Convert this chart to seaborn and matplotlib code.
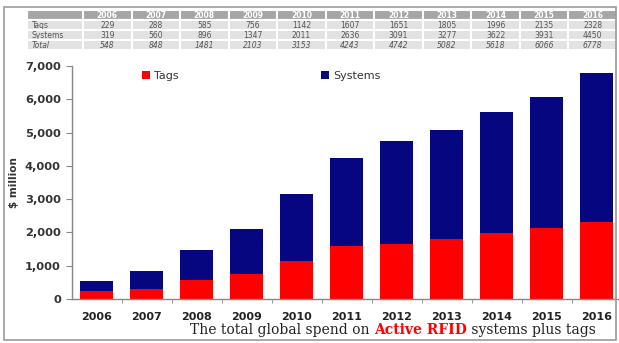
import numpy as np
import pandas as pd
import matplotlib
matplotlib.use("Agg")
import matplotlib.pyplot as plt
import seaborn as sns
from matplotlib.patches import Rectangle

years = ["2006", "2007", "2008", "2009", "2010", "2011", "2012", "2013", "2014", "2015", "2016"]
tags = [229, 288, 585, 756, 1142, 1607, 1651, 1805, 1996, 2135, 2328]
systems = [319, 560, 896, 1347, 2011, 2636, 3091, 3277, 3622, 3931, 4450]
totals = [548, 848, 1481, 2103, 3153, 4243, 4742, 5082, 5618, 6066, 6778]

red = "#fe0000"
navy = "#060680"

sns.set_style("white")
plt.rcParams["font.family"] = ["DejaVu Sans"]

df = pd.DataFrame({"year": years, "tags": tags, "systems": systems})
df["total"] = df["tags"] + df["systems"]

fig = plt.figure(figsize=(6.19, 3.43), dpi=100)

# outer frame
fig.patches.append(Rectangle((4 / 619, 3 / 343), 612 / 619, 333 / 343, transform=fig.transFigure,
                             fill=False, edgecolor="#9a9a9a", linewidth=1.2))

ax = fig.add_axes([72 / 619, 1 - 299 / 343, 547 / 619, 233 / 343])
sns.barplot(data=df, x="year", y="total", color=navy, width=0.66, saturation=1,
            edgecolor="none", ax=ax, label="Systems")
sns.barplot(data=df, x="year", y="tags", color=red, width=0.66, saturation=1,
            edgecolor="none", ax=ax, label="Tags")

ax.set_ylim(0, 7000)
ax.set_xlim(-0.49, 10.45)
ax.set_yticks(np.arange(0, 7001, 1000))
ax.set_yticklabels([f"{v:,}" for v in range(0, 7001, 1000)], fontsize=8.2, fontweight="bold", color="#333333")
ax.set_xticks(range(len(years)))
ax.set_xticklabels(years, fontsize=8, fontweight="bold", color="#222222")
ax.set_xticks(np.arange(0.5, len(years) - 1, 1), minor=True)
ax.tick_params(axis="x", which="major", length=0, pad=9)
ax.tick_params(axis="x", which="minor", length=3, color="#888888", direction="out", bottom=True)
ax.tick_params(axis="y", length=4, color="#888888", direction="out", left=True, pad=4)
ax.set_xlabel("")
ax.set_ylabel("$ million", fontsize=7.5, fontweight="bold", color="#333333", labelpad=4)
for s in ["top", "right"]:
    ax.spines[s].set_visible(False)
for s in ["left", "bottom"]:
    ax.spines[s].set_color("#888888")
    ax.spines[s].set_linewidth(1)

h, l = ax.get_legend_handles_labels()
order = [l.index("Tags"), l.index("Systems")]
leg = ax.legend([h[i] for i in order], [l[i] for i in order], ncol=2, loc="center left",
                bbox_to_anchor=(0.12, 0.957), frameon=False, fontsize=8, handlelength=0.7,
                handleheight=0.7, handletextpad=0.4, columnspacing=12.8, borderaxespad=0)
for t in leg.get_texts():
    t.set_color("#333333")

# data table on top
tax = fig.add_axes([27 / 619, 1 - 50 / 343, 590 / 619, 40 / 343])
tax.axis("off")
rows = [["Tags"] + [str(v) for v in tags],
        ["Systems"] + [str(v) for v in systems],
        ["Total"] + [str(v) for v in totals]]
tbl = tax.table(cellText=rows, colLabels=[""] + years, bbox=[0, 0, 1, 1], cellLoc="center")
tbl.auto_set_font_size(False)
widths = [56 / 590] + [(534 / 590) / len(years)] * len(years)
for (r, c), cell in tbl.get_celld().items():
    cell.set_edgecolor("white")
    cell.set_linewidth(1.5)
    cell.set_width(widths[c])
    txt = cell.get_text()
    txt.set_fontsize(5.5)
    if r == 0:
        cell.set_facecolor("#a6a6a6")
        txt.set_color("white")
        txt.set_fontweight("bold")
    else:
        cell.set_facecolor("#e2e2e2")
        txt.set_color("#555555")
        if r == 3:
            txt.set_fontstyle("italic")
    if c == 0:
        txt.set_ha("left")
        cell.PAD = 0.08

# caption with red highlight
parts = [("The total global spend on ", "#222222", "normal"),
         ("Active RFID", red, "bold"),
         (" systems plus tags", "#222222", "normal")]
fig.canvas.draw()
renderer = fig.canvas.get_renderer()
x = 190 / 619
for s, col, w in parts:
    t = fig.text(x, 1 - 330 / 343, s, color=col, fontweight=w, fontsize=10,
                 family="DejaVu Serif", va="center", ha="left")
    bb = t.get_window_extent(renderer)
    x += bb.width / fig.bbox.width

fig.savefig("out.png", dpi=100)
